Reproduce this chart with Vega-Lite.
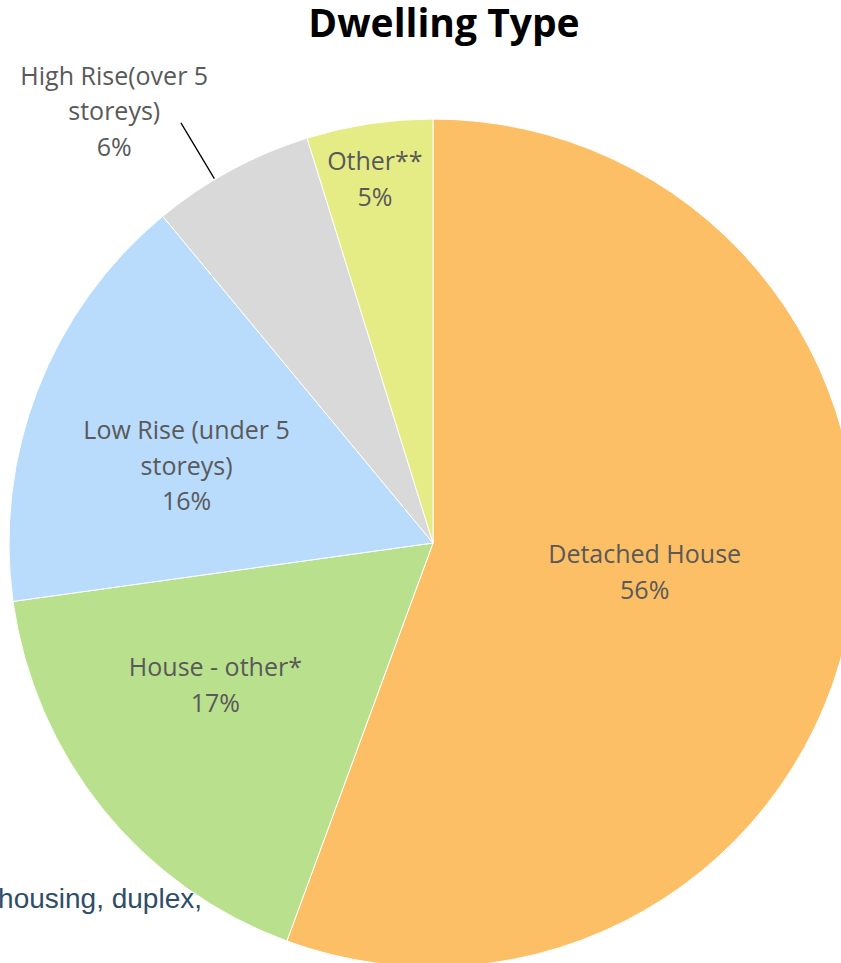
{
  "$schema": "https://vega.github.io/schema/vega-lite/v6.json",
  "width": 816,
  "height": 840,
  "autosize": {"type": "none"},
  "padding": {"left": 25, "top": 123, "right": 0, "bottom": 0},
  "background": "white",
  "config": {"view": {"stroke": null}},
  "title": {
    "text": "Dwelling Type",
    "font": "Open Sans",
    "fontSize": 39,
    "fontWeight": "bold",
    "color": "#000000",
    "anchor": "middle",
    "frame": "group",
    "offset": -65,
    "baseline": "alphabetic",
    "dx": 11
  },
  "data": {
    "values": [
      {"type": "Detached House", "value": 55.6, "label": "Detached House\n56%"},
      {"type": "House - other*", "value": 17.2, "label": "House - other*\n17%"},
      {"type": "Low Rise (under 5 storeys)", "value": 16.2, "label": "Low Rise (under 5\nstoreys)\n16%"},
      {"type": "High Rise(over 5 storeys)", "value": 6.2, "label": "High Rise(over 5\nstoreys)\n6%"},
      {"type": "Other**", "value": 4.8, "label": "Other**\n5%"}
    ]
  },
  "layer": [
    {
      "data": {"values": [{"note": "housing, duplex,"}]},
      "mark": {"type": "text", "align": "right", "baseline": "alphabetic", "font": "Liberation Sans", "fontSize": 28, "color": "#2E4D68"},
      "encoding": {
        "text": {"field": "note", "type": "nominal"},
        "x": {"value": 177},
        "y": {"value": 785}
      }
    },
    {
      "mark": {"type": "arc", "outerRadius": 424, "stroke": "#ffffff", "strokeWidth": 1},
      "encoding": {
        "theta": {"field": "value", "type": "quantitative", "stack": true},
        "order": {"field": "value", "type": "quantitative", "sort": "descending"},
        "color": {
          "field": "type",
          "type": "nominal",
          "scale": {
            "domain": ["Detached House", "House - other*", "Low Rise (under 5 storeys)", "High Rise(over 5 storeys)", "Other**"],
            "range": ["#FDBF65", "#B9E08D", "#B9DBFC", "#D9D9D9", "#E5EC85"]
          },
          "legend": null
        }
      }
    },
    {
      "mark": {"type": "arc", "innerRadius": 425, "outerRadius": 490, "padAngle": 1.2, "thetaOffset": -0.044, "theta2Offset": -0.044, "fill": "transparent", "strokeWidth": 1.3},
      "encoding": {
        "theta": {"field": "value", "type": "quantitative", "stack": true},
        "order": {"field": "value", "type": "quantitative", "sort": "descending"},
        "detail": {"field": "type", "type": "nominal"},
        "stroke": {
          "condition": {"test": "datum.type === 'High Rise(over 5 storeys)'", "value": "#000000"},
          "value": "transparent"
        }
      }
    },
    {
      "mark": {"type": "text", "radius": 215, "dy": -26, "font": "Open Sans", "fontSize": 25, "color": "#595959", "lineHeight": 36, "align": "center", "baseline": "middle", "lineBreak": "\n"},
      "encoding": {
        "theta": {"field": "value", "type": "quantitative", "stack": true},
        "order": {"field": "value", "type": "quantitative", "sort": "descending"},
        "detail": {"field": "type", "type": "nominal"},
        "text": {"condition": {"test": "datum.type === 'Detached House'", "field": "label", "type": "nominal"}, "value": ""}
      }
    },
    {
      "mark": {"type": "text", "radius": 259, "dx": -16, "dy": -38, "font": "Open Sans", "fontSize": 25, "color": "#595959", "lineHeight": 36, "align": "center", "baseline": "middle", "lineBreak": "\n"},
      "encoding": {
        "theta": {"field": "value", "type": "quantitative", "stack": true},
        "order": {"field": "value", "type": "quantitative", "sort": "descending"},
        "detail": {"field": "type", "type": "nominal"},
        "text": {"condition": {"test": "datum.type === 'House - other*'", "field": "label", "type": "nominal"}, "value": ""}
      }
    },
    {
      "mark": {"type": "text", "radius": 259, "dx": -5, "dy": -18, "font": "Open Sans", "fontSize": 25, "color": "#595959", "lineHeight": 35.5, "align": "center", "baseline": "middle", "lineBreak": "\n"},
      "encoding": {
        "theta": {"field": "value", "type": "quantitative", "stack": true},
        "order": {"field": "value", "type": "quantitative", "sort": "descending"},
        "detail": {"field": "type", "type": "nominal"},
        "text": {"condition": {"test": "datum.type === 'Low Rise (under 5 storeys)'", "field": "label", "type": "nominal"}, "value": ""}
      }
    },
    {
      "mark": {"type": "text", "radius": 367, "dx": -3, "dy": -18, "font": "Open Sans", "fontSize": 25, "color": "#595959", "lineHeight": 36, "align": "center", "baseline": "middle", "lineBreak": "\n"},
      "encoding": {
        "theta": {"field": "value", "type": "quantitative", "stack": true},
        "order": {"field": "value", "type": "quantitative", "sort": "descending"},
        "detail": {"field": "type", "type": "nominal"},
        "text": {"condition": {"test": "datum.type === 'Other**'", "field": "label", "type": "nominal"}, "value": ""}
      }
    },
    {
      "mark": {"type": "text", "radius": 495, "dx": -83, "dy": -31, "font": "Open Sans", "fontSize": 25, "color": "#595959", "lineHeight": 35.5, "align": "center", "baseline": "middle", "lineBreak": "\n"},
      "encoding": {
        "theta": {"field": "value", "type": "quantitative", "stack": true},
        "order": {"field": "value", "type": "quantitative", "sort": "descending"},
        "detail": {"field": "type", "type": "nominal"},
        "text": {"condition": {"test": "datum.type === 'High Rise(over 5 storeys)'", "field": "label", "type": "nominal"}, "value": ""}
      }
    }
  ]
}
